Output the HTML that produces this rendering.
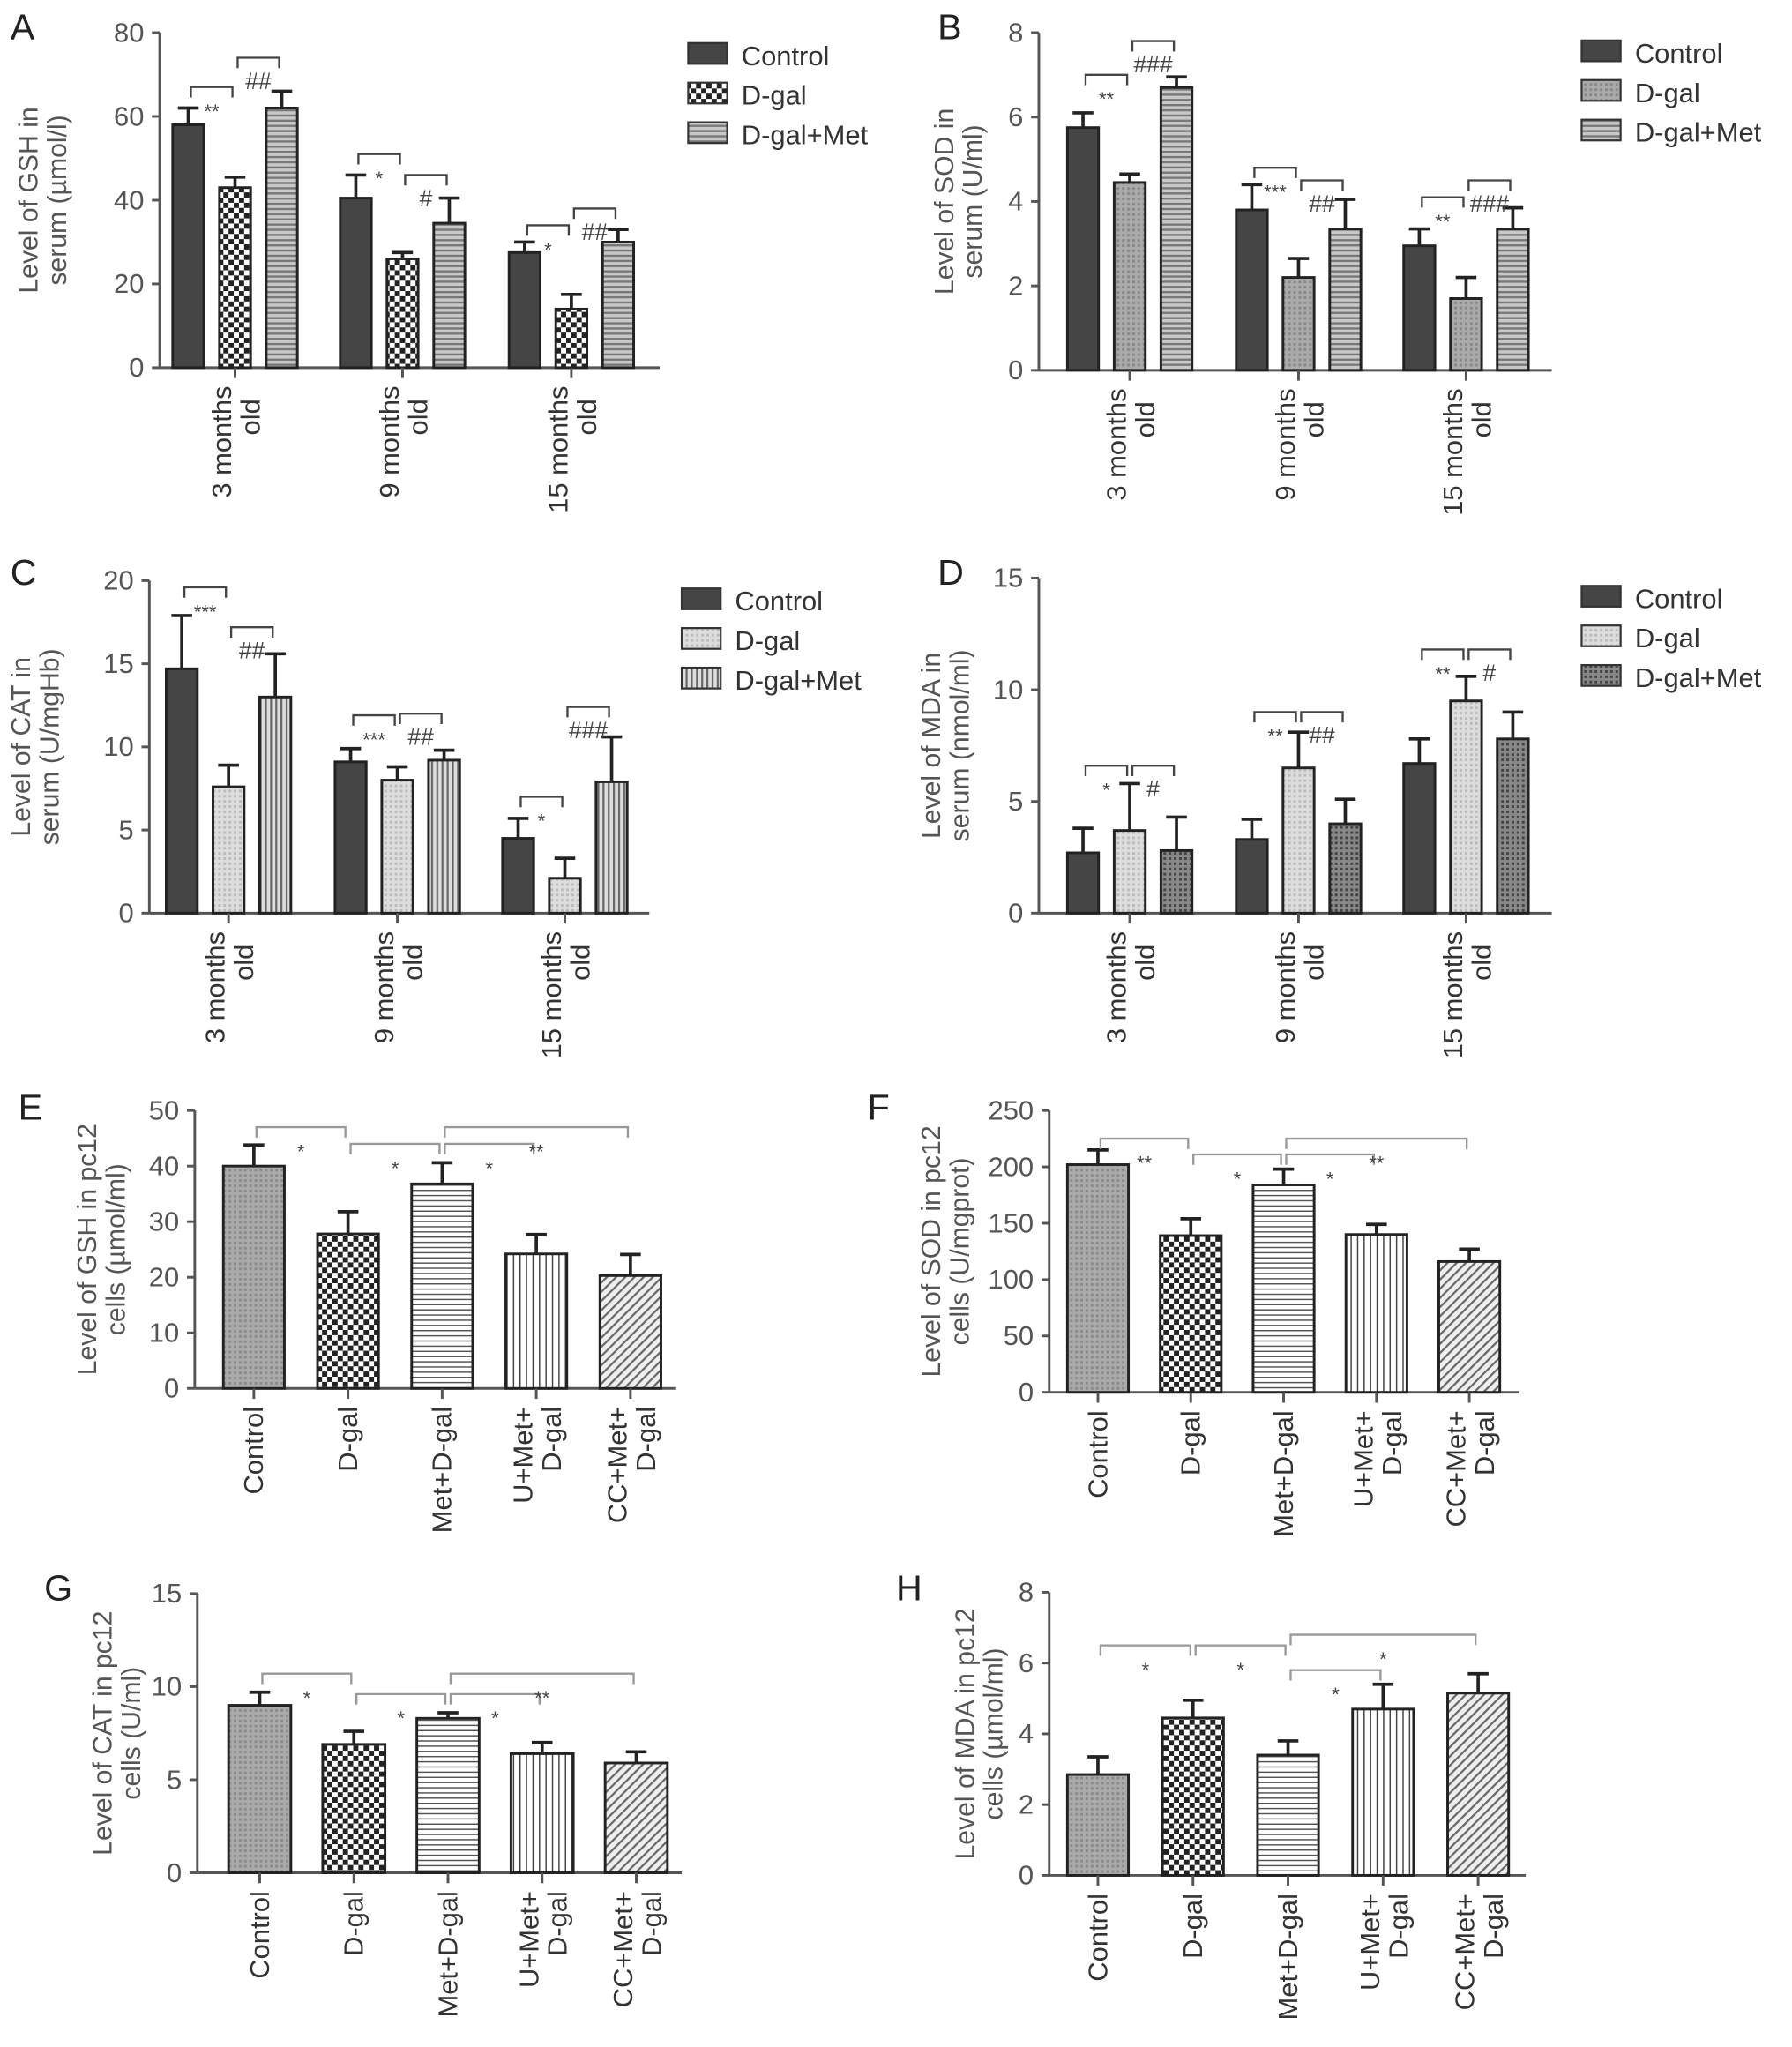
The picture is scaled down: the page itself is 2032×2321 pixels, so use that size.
<!DOCTYPE html>
<html><head><meta charset="utf-8">
<style>
html,body{margin:0;padding:0;background:#fff;}
svg{display:block;}
text{font-family:"Liberation Sans",sans-serif;}
</style></head>
<body>
<svg id="fig" width="2032" height="2321" viewBox="0 0 1380 1576" xmlns="http://www.w3.org/2000/svg">
<defs>
<pattern id="pChecker" width="8" height="8" patternUnits="userSpaceOnUse"><rect width="8" height="8" fill="#fff"/><rect width="4" height="4" fill="#222"/><rect x="4" y="4" width="4" height="4" fill="#222"/></pattern>
<pattern id="pHoriz" width="6" height="4" patternUnits="userSpaceOnUse"><rect width="6" height="4" fill="#c8c8c8"/><rect width="6" height="1.6" fill="#777"/></pattern>
<pattern id="pHorizW" width="6" height="4" patternUnits="userSpaceOnUse"><rect width="6" height="4" fill="#fff"/><rect width="6" height="1" fill="#555"/></pattern>
<pattern id="pVert" width="4" height="6" patternUnits="userSpaceOnUse"><rect width="4" height="6" fill="#ddd"/><rect width="1.5" height="6" fill="#666"/></pattern>
<pattern id="pVertW" width="5" height="6" patternUnits="userSpaceOnUse"><rect width="5" height="6" fill="#fff"/><rect width="1" height="6" fill="#444"/></pattern>
<pattern id="pDotGray" width="4" height="4" patternUnits="userSpaceOnUse"><rect width="4" height="4" fill="#aaa"/><rect width="2" height="2" fill="#888"/></pattern>
<pattern id="pLightDot" width="4" height="4" patternUnits="userSpaceOnUse"><rect width="4" height="4" fill="#ddd"/><rect width="2" height="2" fill="#bbb"/></pattern>
<pattern id="pDark" width="4" height="4" patternUnits="userSpaceOnUse"><rect width="4" height="4" fill="#888"/><rect width="2" height="2" fill="#444"/></pattern>
<pattern id="pCtrlTex" width="4" height="4" patternUnits="userSpaceOnUse"><rect width="4" height="4" fill="#aaa"/><rect width="2" height="2" fill="#8a8a8a"/></pattern>
<pattern id="pDiag" width="5" height="5" patternUnits="userSpaceOnUse" patternTransform="rotate(45)"><rect width="5" height="5" fill="#eee"/><rect width="1.5" height="5" fill="#666"/></pattern>
</defs>
</svg>
<script>
// ---------- Panel data ----------
const groupLabels = ["3 months old", "9 months old", "15 months old"];
const seriesNames = ["Control", "D-gal", "D-gal+Met"];
const cellCats = ["Control", "D-gal", "Met+D-gal", "U+Met+ D-gal", "CC+Met+ D-gal"];

const aTicks = [0, 20, 40, 60, 80];
const aCtrl = [58, 40.5, 27.5], aCtrlErr = [4, 5.5, 2.5];
const aDgal = [43, 26, 14], aDgalErr = [2.5, 1.5, 3.5];
const aMet = [62, 34.5, 30], aMetErr = [4, 6, 3];
const aSig = [[0,0,1,67,"**"],[0,1,2,74,"##"],[1,0,1,51,"*"],[1,1,2,46,"#"],[2,0,1,34,"*"],[2,1,2,38,"##"]];

const bTicks = [0, 2, 4, 6, 8];
const bCtrl = [5.75, 3.8, 2.95], bCtrlErr = [0.35, 0.6, 0.4];
const bDgal = [4.45, 2.2, 1.7], bDgalErr = [0.2, 0.45, 0.5];
const bMet = [6.7, 3.35, 3.35], bMetErr = [0.25, 0.7, 0.5];
const bSig = [[0,0,1,7.0,"**"],[0,1,2,7.8,"###"],[1,0,1,4.8,"***"],[1,1,2,4.5,"##"],[2,0,1,4.1,"**"],[2,1,2,4.5,"###"]];

const cTicks = [0, 5, 10, 15, 20];
const cCtrl = [14.7, 9.1, 4.5], cCtrlErr = [3.2, 0.8, 1.2];
const cDgal = [7.6, 8.0, 2.1], cDgalErr = [1.3, 0.8, 1.2];
const cMet = [13.0, 9.2, 7.9], cMetErr = [2.6, 0.6, 2.7];
const cSig = [[0,0,1,19.6,"***"],[0,1,2,17.2,"##"],[1,0,1,11.9,"***"],[1,1,2,12.0,"##"],[2,0,1,7.0,"*"],[2,1,2,12.4,"###"]];

const dTicks = [0, 5, 10, 15];
const dCtrl = [2.7, 3.3, 6.7], dCtrlErr = [1.1, 0.9, 1.1];
const dDgal = [3.7, 6.5, 9.5], dDgalErr = [2.1, 1.6, 1.1];
const dMet = [2.8, 4.0, 7.8], dMetErr = [1.5, 1.1, 1.2];
const dSig = [[0,0,1,6.6,"*"],[0,1,2,6.6,"#"],[1,0,1,9.0,"**"],[1,1,2,9.0,"##"],[2,0,1,11.8,"**"],[2,1,2,11.8,"#"]];

const eTicks = [0, 10, 20, 30, 40, 50];
const eVals = [40, 27.8, 36.8, 24.2, 20.3], eErr = [3.8, 4, 3.8, 3.5, 3.8];
const eSig = [[0,1,47,"*"],[1,2,44,"*"],[2,3,44,"*"],[2,4,47,"**"]];

const fTicks = [0, 50, 100, 150, 200, 250];
const fVals = [202, 139, 184, 140, 116], fErr = [13, 15, 14, 9, 11];
const fSig = [[0,1,225,"**"],[1,2,211,"*"],[2,3,211,"*"],[2,4,225,"**"]];

const gTicks = [0, 5, 10, 15];
const gVals = [9.0, 6.9, 8.3, 6.4, 5.9], gErr = [0.7, 0.7, 0.3, 0.6, 0.6];
const gSig = [[0,1,10.7,"*"],[1,2,9.6,"*"],[2,3,9.6,"*"],[2,4,10.7,"**"]];

const hTicks = [0, 2, 4, 6, 8];
const hVals = [2.85, 4.45, 3.4, 4.7, 5.15], hErr = [0.5, 0.5, 0.4, 0.7, 0.55];
const hSig = [[0,1,6.5,"*"],[1,2,6.5,"*"],[2,3,5.8,"*"],[2,4,6.8,"*"]];

// ---------- drawing ----------
const NS = "http://www.w3.org/2000/svg";
const svg = document.getElementById("fig");
function mk(tag, attrs, parent, txt){
  const e = document.createElementNS(NS, tag);
  for (const k in attrs) e.setAttribute(k, attrs[k]);
  if (txt !== undefined) e.textContent = txt;
  (parent || svg).appendChild(e);
  return e;
}
const AX = "#555";

function axes(g, L, x0, x1, yTop, yBot, ticks, title1, title2, name, tdx){
  const max = ticks[ticks.length-1];
  const ys = v => yBot - (v / max) * (yBot - yTop);
  const letter = mk("text",{x:L.x,y:L.y,"font-size":28,fill:"#222"},g,L.t);
  
  
  const ya = mk("line",{x1:x0,y1:yTop,x2:x0,y2:yBot,stroke:AX,"stroke-width":2},g);
  
  
  const xa = mk("line",{x1:x0,y1:yBot,x2:x1,y2:yBot,stroke:AX,"stroke-width":2},g);
  
  
  ticks.forEach(t => {
    mk("line",{x1:x0-6,y1:ys(t),x2:x0,y2:ys(t),stroke:AX,"stroke-width":2},g);
    const tl = mk("text",{x:x0-12,y:ys(t)+7,"font-size":21,fill:"#555","text-anchor":"end"},g,String(t));
    
    
  });
  const cy = (yTop + yBot)/2;
  const tt = mk("text",{transform:`translate(${x0+tdx},${cy}) rotate(-90)`,"font-size":20.5,fill:"#555","text-anchor":"middle"},g);
  
  
  mk("tspan",{x:0,dy:-4},tt,title1);
  mk("tspan",{x:0,dy:22},tt,title2);
  return ys;
}

function bar(g, x, w, yBot, yv, ye, fill, name){
  mk("line",{x1:x+w/2,y1:ye,x2:x+w/2,y2:yv,stroke:"#222","stroke-width":2.5},g);
  mk("line",{x1:x+w/2-8,y1:ye,x2:x+w/2+8,y2:ye,stroke:"#222","stroke-width":2.5},g);
  const r = mk("rect",{x:x,y:yv,width:w,height:yBot-yv,fill:fill,stroke:"#222","stroke-width":2},g);
  
  
}

function bracket(g, xa, xb, y, label, lx, col){
  const p = mk("path",{d:`M${xa},${y+8} V${y} H${xb} V${y+8}`,fill:"none",stroke:col,"stroke-width":1.6},g);
  
  
  const t = mk("text",{x:lx,y:y+24,"font-size":label.startsWith("#")?18:15,fill:"#444","text-anchor":"middle"},g,label);
  
  
}

function groupedPanel(cfg){
  const g = mk("g",{});
  
  
  const ys = axes(g, cfg.L, cfg.x0, cfg.x1, cfg.yTop, cfg.yBot, cfg.ticks, cfg.t1, cfg.t2, 'panel-' + cfg.id, cfg.tdx);
  const series = [cfg.s0, cfg.s1, cfg.s2], errs = [cfg.e0, cfg.e1, cfg.e2];
  const pos = (gi, si) => cfg.gx[gi] + si * cfg.step;
  for (let gi = 0; gi < 3; gi++){
    for (let si = 0; si < 3; si++){
      const v = series[si][gi], e = errs[si][gi];
      bar(g, pos(gi,si), cfg.bw, cfg.yBot, ys(v), ys(v+e), cfg.fills[si], 'bar-' + seriesNames[si].toLowerCase().replace('+','-') + '-' + (gi));
    }
    const cx = pos(gi,1) + cfg.bw/2;
    mk("line",{x1:cx,y1:cfg.yBot,x2:cx,y2:cfg.yBot+8,stroke:AX,"stroke-width":2},g);
    const parts = groupLabels[gi].split(" ");
    const lab = mk("text",{transform:`translate(${cx},${cfg.yBot+14}) rotate(-90)`,"font-size":21,fill:"#333","text-anchor":"end"},g);
    
    
    mk("tspan",{x:0,dy:-3},lab,parts[0]+" "+parts[1]);
    mk("tspan",{x:-10,dy:22},lab,parts[2]);
  }
  cfg.sig.forEach(s => {
    const xa = pos(s[0],s[1]) + cfg.bw/2, xb = pos(s[0],s[2]) + cfg.bw/2;
    bracket(g, xa+2, xb-2, ys(s[3]), s[4], (xa+xb)/2, "#444");
  });
  seriesNames.forEach((n,i) => {
    const y = cfg.legY + i*30.5;
    const le = mk("g",{},g);
    
    
    mk("rect",{x:cfg.legX,y:y-9,width:30,height:16,fill:cfg.fills[i],stroke:"#333","stroke-width":1.5},le);
    mk("text",{x:cfg.legX+41,y:y+8,"font-size":21,fill:"#333"},le,n);
  });
}

function cellPanel(cfg){
  const g = mk("g",{});
  
  
  const ys = axes(g, cfg.L, cfg.x0, cfg.x1, cfg.yTop, cfg.yBot, cfg.ticks, cfg.t1, cfg.t2, 'panel-' + cfg.id, cfg.tdx);
  const fills = ["url(#pCtrlTex)","url(#pChecker)","url(#pHorizW)","url(#pVertW)","url(#pDiag)"];
  const pos = i => cfg.bx0 + i*cfg.step;
  cfg.vals.forEach((v,i) => {
    bar(g, pos(i), cfg.bw, cfg.yBot, ys(v), ys(v+cfg.err[i]), fills[i], 'bar-' + cellCats[i].toLowerCase().replace(/[^a-z]+/g,'-'));
    const cx = pos(i) + cfg.bw/2;
    mk("line",{x1:cx,y1:cfg.yBot,x2:cx,y2:cfg.yBot+8,stroke:AX,"stroke-width":2},g);
    const lab = mk("text",{transform:`translate(${cx},${cfg.yBot+14}) rotate(-90)`,"font-size":21,fill:"#333","text-anchor":"end"},g);
    
    
    const parts = cellCats[i].split(" ");
    if (parts.length === 1){ mk("tspan",{x:0,dy:7},lab,parts[0]); }
    else { mk("tspan",{x:0,dy:-3},lab,parts[0]); mk("tspan",{x:0,dy:22},lab,parts[1]); }
  });
  cfg.sig.forEach(s => {
    const xa = pos(s[0]) + cfg.bw/2, xb = pos(s[1]) + cfg.bw/2;
    bracket(g, xa+2, xb-2, ys(s[2]), s[3], (xa+xb)/2, "#999");
  });
}

groupedPanel({id:"a",L:{x:8,y:30,t:"A"},x0:123,x1:508,yTop:25,yBot:283,ticks:aTicks,t1:"Level of GSH in",t2:"serum (µmol/l)",tdx:-90,
  s0:aCtrl,s1:aDgal,s2:aMet,e0:aCtrlErr,e1:aDgalErr,e2:aMetErr,gx:[133,262,392],step:36,bw:24,
  fills:["#454545","url(#pChecker)","url(#pHoriz)"],sig:aSig,legX:530,legY:42});
groupedPanel({id:"b",L:{x:722,y:30,t:"B"},x0:800,x1:1195,yTop:25,yBot:285,ticks:bTicks,t1:"Level of SOD in",t2:"serum (U/ml)",tdx:-62,
  s0:bCtrl,s1:bDgal,s2:bMet,e0:bCtrlErr,e1:bDgalErr,e2:bMetErr,gx:[822,952,1081],step:36,bw:24,
  fills:["#454545","url(#pDotGray)","url(#pHoriz)"],sig:bSig,legX:1218,legY:40});
groupedPanel({id:"c",L:{x:8,y:450,t:"C"},x0:115,x1:500,yTop:447,yBot:703,ticks:cTicks,t1:"Level of CAT in",t2:"serum (U/mgHb)",tdx:-88,
  s0:cCtrl,s1:cDgal,s2:cMet,e0:cCtrlErr,e1:cDgalErr,e2:cMetErr,gx:[128,258,387],step:36,bw:24,
  fills:["#454545","url(#pLightDot)","url(#pVert)"],sig:cSig,legX:525,legY:462});
groupedPanel({id:"d",L:{x:722,y:450,t:"D"},x0:800,x1:1195,yTop:445,yBot:703,ticks:dTicks,t1:"Level of MDA in",t2:"serum (nmol/ml)",tdx:-72,
  s0:dCtrl,s1:dDgal,s2:dMet,e0:dCtrlErr,e1:dDgalErr,e2:dMetErr,gx:[822,952,1081],step:36,bw:24,
  fills:["#454545","url(#pLightDot)","url(#pDark)"],sig:dSig,legX:1218,legY:460});
cellPanel({id:"e",L:{x:14,y:862,t:"E"},x0:150,x1:520,yTop:855,yBot:1069,ticks:eTicks,t1:"Level of GSH in pc12",t2:"cells (µmol/ml)",tdx:-72,
  vals:eVals,err:eErr,bx0:172,step:72.5,bw:47,sig:eSig});
cellPanel({id:"f",L:{x:668,y:862,t:"F"},x0:808,x1:1170,yTop:855,yBot:1072,ticks:fTicks,t1:"Level of SOD in pc12",t2:"cells (U/mgprot)",tdx:-80,
  vals:fVals,err:fErr,bx0:822,step:71.5,bw:47,sig:fSig});
cellPanel({id:"g",L:{x:34,y:1232,t:"G"},x0:152,x1:525,yTop:1227,yBot:1442,ticks:gTicks,t1:"Level of CAT in pc12",t2:"cells (U/ml)",tdx:-62,
  vals:gVals,err:gErr,bx0:176,step:72.5,bw:48,sig:gSig});
cellPanel({id:"h",L:{x:690,y:1232,t:"H"},x0:808,x1:1175,yTop:1226,yBot:1444,ticks:hTicks,t1:"Level of MDA in pc12",t2:"cells (µmol/ml)",tdx:-54,
  vals:hVals,err:hErr,bx0:822,step:73.2,bw:47,sig:hSig});
</script>
</body></html>
